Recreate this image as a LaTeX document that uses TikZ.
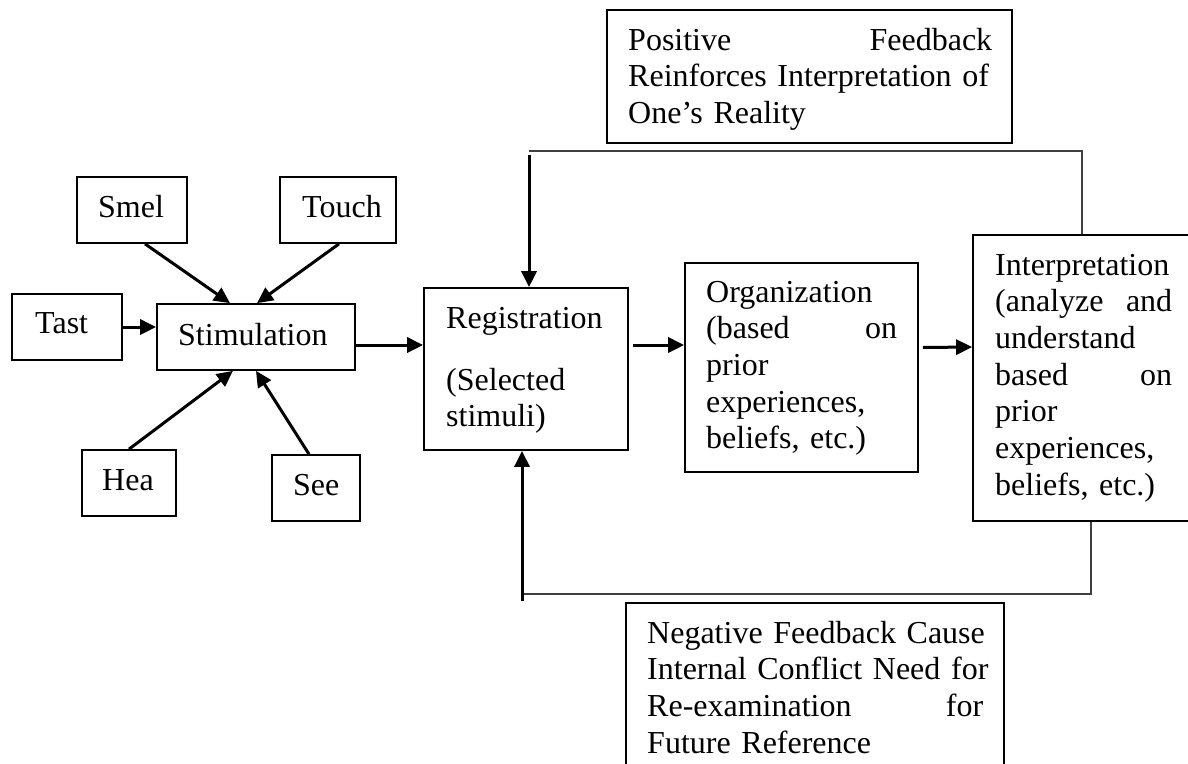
\documentclass[tikz,border=0pt]{standalone}
\usepackage{fontspec}
\setmainfont{Liberation Serif}
\usetikzlibrary{arrows.meta,fit}
\begin{document}
\hyphenpenalty=10000
\exhyphenpenalty=10000
\begin{tikzpicture}[x=1pt,y=-1pt,
  bx/.style={draw, line width=1.7pt, inner sep=0pt, rectangle},
  txt/.style={anchor=base west, inner sep=0pt, align=left, text width=380pt,
    font=\fontsize{32}{36.7}\selectfont},
  arr/.style={line width=3pt, -{Triangle[length=16pt,width=15pt]}},
  fb/.style={line width=1.4pt, draw=black!75},
]
\useasboundingbox (0,0) rectangle (1188,763);
\clip (0,0) rectangle (1188,763);

% boxes
\node[bx, fit={(607,10) (1012,143)}] (pos) {};
\node[bx, fit={(77,177) (187,243)}] (smel) {};
\node[bx, fit={(280,177) (396,243)}] (touch) {};
\node[bx, fit={(12,294) (122,360)}] (tast) {};
\node[bx, fit={(157,304) (355,370)}] (stim) {};
\node[bx, fit={(82,450) (176,516)}] (hea) {};
\node[bx, fit={(272,455) (360,521)}] (see) {};
\node[bx, fit={(424,288) (628,450)}] (reg) {};
\node[bx, fit={(685,263) (918,472)}] (org) {};
\node[bx, fit={(973,235) (1198,521)}] (interp) {};
\node[bx, fit={(626,603) (1004,780)}] (neg) {};

% texts
\node[txt] (post) at (628,50) {\makebox[364pt][s]{Positive\hfill Feedback}\\\makebox[364pt][s]{Reinforces Interpretation of}\\One’s Reality};
\node[txt] (smelt) at (98,217) {Smel};
\node[txt] (toucht) at (302,217) {Touch};
\node[txt] (tastt) at (35,333) {Tast};
\node[txt] (stimt) at (178,345) {Stimulation};
\node[txt] (heat) at (102,490) {Hea};
\node[txt] (seet) at (293,495) {See};
\node[txt] (regt) at (446,328) {Registration\\[25.3pt](Selected\\stimuli)};
\node[txt] (orgt) at (706,302) {Organization\\\makebox[191pt][s]{(based\hfill on}\\prior\\experiences,\\beliefs, etc.)};
\node[txt] (interpt) at (995,275) {Interpretation\\\makebox[177pt][s]{(analyze\hfill and}\\understand\\\makebox[177pt][s]{based\hfill on}\\prior\\experiences,\\beliefs, etc.)};
\node[txt] (negt) at (647,643) {Negative Feedback Cause\\Internal Conflict Need for\\\makebox[336pt][s]{Re-examination\hfill for}\\Future Reference};

% sense arrows
\draw[arr] ([xshift=13pt]smel.south) -- ([xshift=-26pt]stim.north);
\draw[arr] ([xshift=1pt]touch.south) -- ([xshift=1pt]stim.north);
\draw[arr] (tast.east) -- ([yshift=10pt]stim.west);
\draw[arr] (hea.north) -- ([xshift=-23pt]stim.south);
\draw[arr] ([xshift=-7pt]see.north) -- (stim.south);

% main flow
\draw[arr] ([yshift=-8pt]stim.east) -- ([yshift=-8pt]stim.east -| reg.west);
\draw[arr] ([xshift=4pt,yshift=24pt]reg.east) -- ([yshift=24pt]reg.east -| org.west);
\draw[arr] ([xshift=4pt,yshift=20pt]org.east) -- ([yshift=31pt]interp.west);

% feedback loops
\coordinate (tl) at (529,151);
\coordinate (tr) at (1082,151);
\draw[fb] (tr |- interp.north) -- (tr) -- (tl);
\draw[arr] ([yshift=-4pt]tl) -- (tl |- reg.north);

\coordinate (bl) at (522,594);
\coordinate (br) at (1091,594);
\draw[fb] (br |- interp.south) -- (br) -- (bl);
\draw[arr] ([yshift=-7pt]bl) -- (bl |- reg.south);
\end{tikzpicture}
\end{document}
